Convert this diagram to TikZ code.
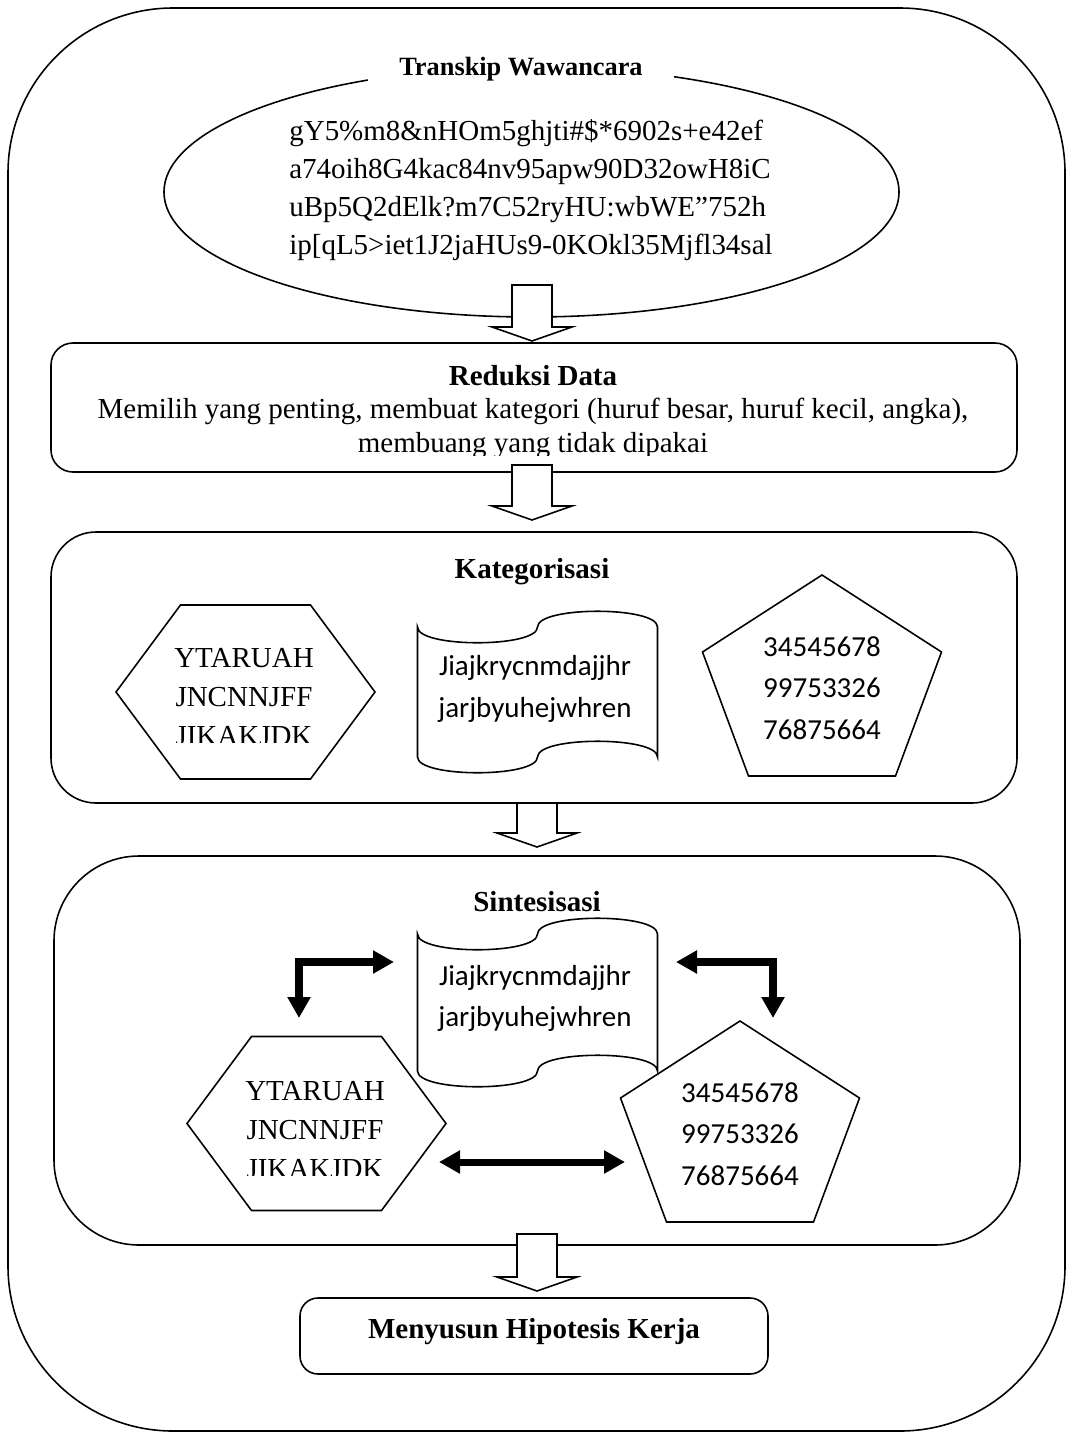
\documentclass[tikz,border=0pt]{standalone}
\usepackage{fontspec}
\setmainfont{Liberation Serif}[Ligatures=CommonOff]
\newfontfamily\calibri{Carlito}
\usetikzlibrary{arrows.meta}

\tikzset{
  stage/.style={draw, line width=0.9pt},
  hollow/.style={draw, line width=0.9pt, fill=white},
  title/.style={font=\bfseries\fontsize{16.5}{19.8}\selectfont, inner sep=0pt},
  body/.style={font=\fontsize{16.5}{21.7}\selectfont, align=center, inner sep=0pt},
  digits/.style={font=\calibri\fontsize{16.5}{23.5}\selectfont, align=center, inner sep=0pt},
  boldarrow/.style={line width=4pt,
    {Triangle[length=0.42cm,width=0.44cm]}-{Triangle[length=0.42cm,width=0.44cm]}},
}

\begin{document}
\begin{tikzpicture}[x=0.02cm, y=-0.02cm]
  \useasboundingbox (0,0) rectangle (1069,1434);

  % outer frame
  \draw [stage, rounded corners=3.3cm] (8,8) rectangle (1065,1431);

  % transcript
  \draw [stage] (531.5,192) ellipse [x radius=367.5, y radius=125];
  \node [title, font=\bfseries\fontsize{15}{18}\selectfont, fill=white,
         inner xsep=0.62cm, inner ysep=0.25cm] (transkip) at (521,69) {Transkip Wawancara};
  \node [body, align=left] (raw) at (531,190)
    {gY5\%m8\&nHOm5ghjti\#\$*6902s+e42ef\\
     a74oih8G4kac84nv95apw90D32owH8iC\\
     uBp5Q2dElk?m7C52ryHU:wbWE”752h\\
     ip[qL5>iet1J2jaHUs9-0KOkl35Mjfl34sal};

  % reduction
  \draw [stage, rounded corners=0.44cm] (51,343) rectangle (1017,472);
  \begin{scope}
    \clip (51,343) rectangle (1017,455);
    \node [body, font=\fontsize{16.5}{19.3}\selectfont] (reduksi) at (533,412)
      {\textbf{Reduksi Data}\\
       Memilih yang penting, membuat kategori (huruf besar, huruf kecil, angka),\\
       membuang yang tidak dipakai};
  \end{scope}

  % categorisation
  \draw [stage, rounded corners=0.9cm] (51,532) rectangle (1017,803);
  \node [title] (kategori) at (532,572) {Kategorisasi};

  \draw [stage, shift={(245.5,692)}]
    (-129.5,0) -- (-65,-87) -- (65,-87) -- (129.5,0) -- (65,87) -- (-65,87) -- cycle;
  \begin{scope}
    \clip (110,600) rectangle (380,742);
    \node [body, font=\fontsize{16.5}{22}\selectfont] (hexA) at (244,697)
      {YTARUAH\\JNCNNJFF\\JIKAKJDK};
  \end{scope}

  \draw [stage, shift={(537.5,692)}]
    (-120,-65) .. controls (-120,-44) and (0,-44) .. (0,-65)
    .. controls (0,-86) and (120,-86) .. (120,-65) -- (120,65)
    .. controls (120,44) and (0,44) .. (0,65)
    .. controls (0,86) and (-120,86) .. (-120,65) -- cycle;
  \node [digits] (tapeA) at (535,689) {Jiajkrycnmdajjhr\\jarjbyuhejwhren};

  \draw [stage, shift={(822,688)}]
    (0,-113) -- (119.5,-36) -- (73.5,88) -- (-73.5,88) -- (-119.5,-36) -- cycle;
  \node [digits] (pentA) at (822,688) {34545678\\99753326\\76875664};

  % synthesis
  \draw [stage, rounded corners=1.7cm] (54,856) rectangle (1020,1245);
  \node [title] (sintesis) at (537,902) {Sintesisasi};

  \draw [stage, shift={(537.5,1002.5)}]
    (-120,-68.5) .. controls (-120,-47.5) and (0,-47.5) .. (0,-68.5)
    .. controls (0,-89.5) and (120,-89.5) .. (120,-68.5) -- (120,68.5)
    .. controls (120,47.5) and (0,47.5) .. (0,68.5)
    .. controls (0,89.5) and (-120,89.5) .. (-120,68.5) -- cycle;
  \node [digits] (tapeB) at (535,998.5) {Jiajkrycnmdajjhr\\jarjbyuhejwhren};

  \draw [stage, shift={(316.5,1123.5)}]
    (-129.5,0) -- (-65,-87) -- (65,-87) -- (129.5,0) -- (65,87) -- (-65,87) -- cycle;
  \begin{scope}
    \clip (180,1030) rectangle (450,1175);
    \node [body, font=\fontsize{16.5}{22}\selectfont] (hexB) at (315,1130)
      {YTARUAH\\JNCNNJFF\\JIKAKJDK};
  \end{scope}

  \draw [stage, shift={(740,1134)}]
    (0,-113) -- (119.5,-36) -- (73.5,88) -- (-73.5,88) -- (-119.5,-36) -- cycle;
  \node [digits] (pentB) at (740,1134) {34545678\\99753326\\76875664};

  \coordinate (hexBtop) at (299,1018);
  \coordinate (tapeBwest) at (394,962);
  \coordinate (tapeBeast) at (676,962);
  \coordinate (pentBtop) at (773,1018);
  \coordinate (hexBeast) at (439,1162);
  \coordinate (pentBwest) at (625,1162);
  \draw [boldarrow] (hexBtop) |- (tapeBwest);
  \draw [boldarrow] (tapeBeast) -| (pentBtop);
  \draw [boldarrow] (hexBeast) -- (pentBwest);

  % hypothesis
  \draw [stage, rounded corners=0.36cm] (300,1298) rectangle (768,1374);
  \node [title] (hipotesis) at (534,1332) {Menyusun Hipotesis Kerja};

  % hollow arrows between stages
  \foreach \cx/\top/\base in {532/285/327, 532/465/506, 537/803/833, 537/1234/1277}
    \draw [hollow] (\cx-20,\top) -- (\cx+20,\top) -- (\cx+20,\base) -- (\cx+40,\base)
      -- (\cx,\base+14) -- (\cx-40,\base) -- (\cx-20,\base) -- cycle;
\end{tikzpicture}
\end{document}
